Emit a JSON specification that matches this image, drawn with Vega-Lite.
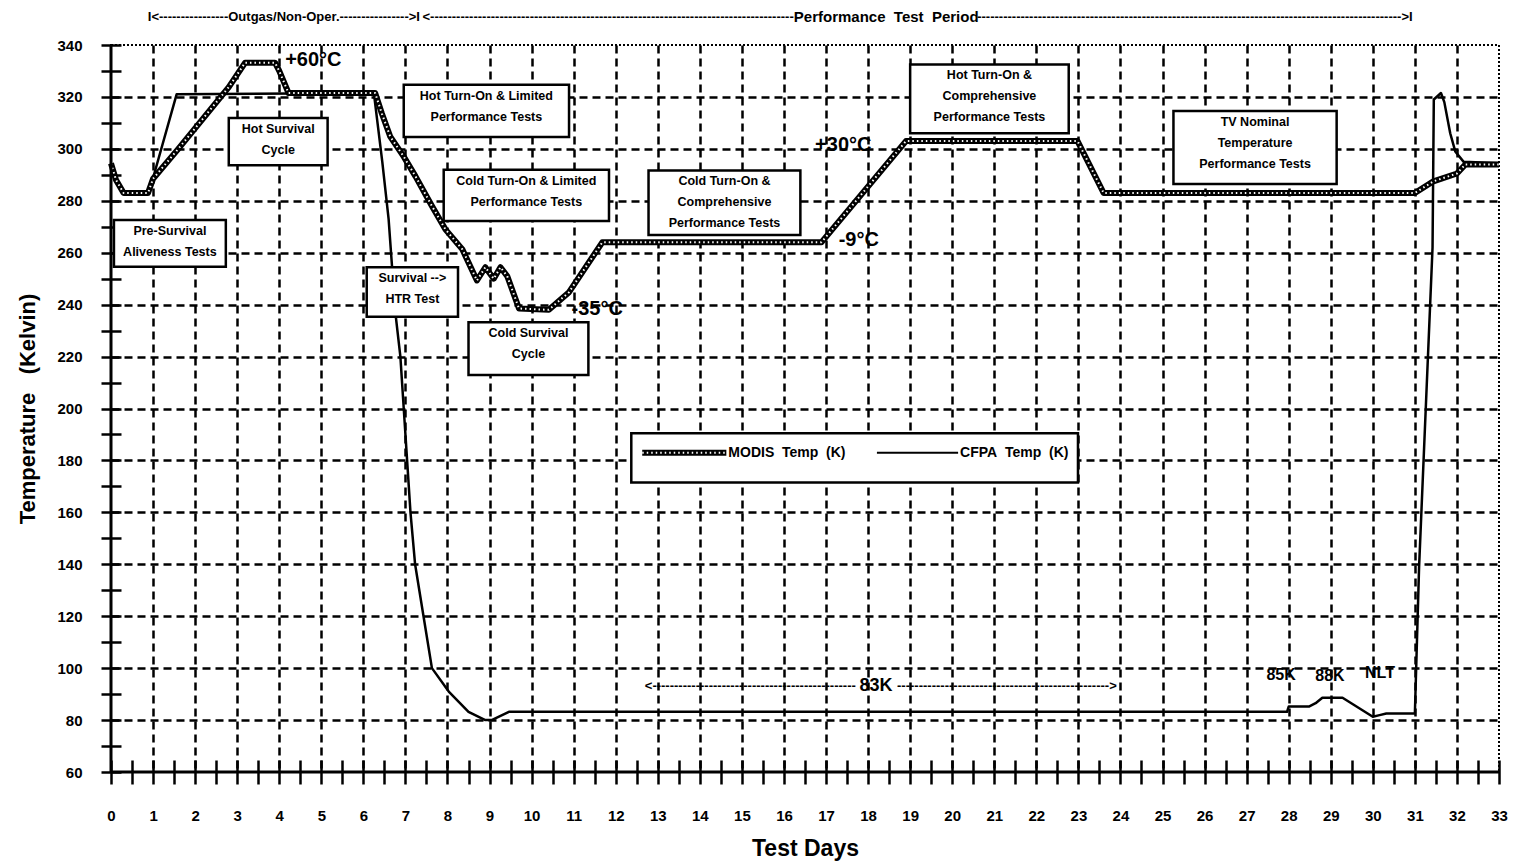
{
  "$schema": "https://vega.github.io/schema/vega-lite/v6.json",
  "width": 1388,
  "height": 727,
  "autosize": {"type": "none"},
  "padding": {"left": 111, "top": 45, "right": 19, "bottom": 89},
  "background": "white",
  "config": {
    "view": {"stroke": "black", "strokeWidth": 2, "strokeDash": [2, 2]},
    "font": "Liberation Sans",
    "axisX": {"tickCount": 66},
    "axisY": {"tickCount": 28}
  },
  "datasets": {
    "temps": [
      {"series": "MODIS", "day": 0, "temp": 294.4},
      {"series": "MODIS", "day": 0.12, "temp": 288},
      {"series": "MODIS", "day": 0.3, "temp": 283},
      {"series": "MODIS", "day": 0.88, "temp": 283},
      {"series": "MODIS", "day": 1.0, "temp": 288.5},
      {"series": "MODIS", "day": 1.6, "temp": 300},
      {"series": "MODIS", "day": 2.8, "temp": 323.8},
      {"series": "MODIS", "day": 3.19, "temp": 333.2},
      {"series": "MODIS", "day": 3.9, "temp": 333.2},
      {"series": "MODIS", "day": 4.0, "temp": 330},
      {"series": "MODIS", "day": 4.22, "temp": 321.5},
      {"series": "MODIS", "day": 6.28, "temp": 321.5},
      {"series": "MODIS", "day": 6.44, "temp": 313.6},
      {"series": "MODIS", "day": 6.64, "temp": 304.7},
      {"series": "MODIS", "day": 6.96, "temp": 297},
      {"series": "MODIS", "day": 7.24, "temp": 289.4},
      {"series": "MODIS", "day": 7.63, "temp": 278},
      {"series": "MODIS", "day": 7.95, "temp": 269},
      {"series": "MODIS", "day": 8.35, "temp": 261.4},
      {"series": "MODIS", "day": 8.7, "temp": 249.3},
      {"series": "MODIS", "day": 8.9, "temp": 254.4},
      {"series": "MODIS", "day": 9.1, "temp": 250},
      {"series": "MODIS", "day": 9.26, "temp": 254.4},
      {"series": "MODIS", "day": 9.42, "temp": 251},
      {"series": "MODIS", "day": 9.7, "temp": 238.5},
      {"series": "MODIS", "day": 10.41, "temp": 238},
      {"series": "MODIS", "day": 10.89, "temp": 244.8},
      {"series": "MODIS", "day": 11.68, "temp": 264},
      {"series": "MODIS", "day": 16.89, "temp": 264},
      {"series": "MODIS", "day": 18.9, "temp": 303},
      {"series": "MODIS", "day": 22.98, "temp": 303},
      {"series": "MODIS", "day": 23.6, "temp": 283},
      {"series": "MODIS", "day": 31.0, "temp": 283},
      {"series": "MODIS", "day": 31.44, "temp": 287.5},
      {"series": "MODIS", "day": 32.0, "temp": 290.5},
      {"series": "MODIS", "day": 32.2, "temp": 294},
      {"series": "MODIS", "day": 33, "temp": 294},
      {"series": "CFPA", "day": 0, "temp": 294.4},
      {"series": "CFPA", "day": 0.12, "temp": 288},
      {"series": "CFPA", "day": 0.3, "temp": 283},
      {"series": "CFPA", "day": 0.9, "temp": 283},
      {"series": "CFPA", "day": 1.56, "temp": 321},
      {"series": "CFPA", "day": 6.25, "temp": 321.5},
      {"series": "CFPA", "day": 6.45, "temp": 295},
      {"series": "CFPA", "day": 6.6, "temp": 273},
      {"series": "CFPA", "day": 6.76, "temp": 237},
      {"series": "CFPA", "day": 6.88, "temp": 220},
      {"series": "CFPA", "day": 6.96, "temp": 200},
      {"series": "CFPA", "day": 7.04, "temp": 180},
      {"series": "CFPA", "day": 7.12, "temp": 160},
      {"series": "CFPA", "day": 7.23, "temp": 140},
      {"series": "CFPA", "day": 7.43, "temp": 120},
      {"series": "CFPA", "day": 7.63, "temp": 100},
      {"series": "CFPA", "day": 8.03, "temp": 91},
      {"series": "CFPA", "day": 8.5, "temp": 83.2},
      {"series": "CFPA", "day": 8.9, "temp": 80},
      {"series": "CFPA", "day": 9.05, "temp": 80},
      {"series": "CFPA", "day": 9.46, "temp": 83.2},
      {"series": "CFPA", "day": 27.96, "temp": 83.2},
      {"series": "CFPA", "day": 28.0, "temp": 85.2},
      {"series": "CFPA", "day": 28.48, "temp": 85.2},
      {"series": "CFPA", "day": 28.64, "temp": 86.5},
      {"series": "CFPA", "day": 28.8, "temp": 88.6},
      {"series": "CFPA", "day": 29.28, "temp": 88.6},
      {"series": "CFPA", "day": 30.0, "temp": 81.3},
      {"series": "CFPA", "day": 30.16, "temp": 81.9},
      {"series": "CFPA", "day": 30.32, "temp": 82.5},
      {"series": "CFPA", "day": 31.0, "temp": 82.5},
      {"series": "CFPA", "day": 31.1, "temp": 139},
      {"series": "CFPA", "day": 31.42, "temp": 262},
      {"series": "CFPA", "day": 31.45, "temp": 319},
      {"series": "CFPA", "day": 31.62, "temp": 321.5},
      {"series": "CFPA", "day": 31.7, "temp": 318},
      {"series": "CFPA", "day": 31.84, "temp": 306},
      {"series": "CFPA", "day": 31.96, "temp": 299},
      {"series": "CFPA", "day": 32.16, "temp": 295},
      {"series": "CFPA", "day": 33, "temp": 294.5}
    ],
    "boxes": [
      {"x1": 0.07, "x2": 2.73, "y1": 272.6, "y2": 254.6, "label": ["Pre-Survival", "Aliveness Tests"]},
      {"x1": 2.8, "x2": 5.15, "y1": 311.9, "y2": 293.7, "label": ["Hot Survival", "Cycle"]},
      {"x1": 6.96, "x2": 10.89, "y1": 324.7, "y2": 304.6, "label": ["Hot Turn-On & Limited", "Performance Tests"]},
      {"x1": 7.91, "x2": 11.84, "y1": 292, "y2": 272.2, "label": ["Cold Turn-On & Limited", "Performance Tests"]},
      {"x1": 6.08, "x2": 8.25, "y1": 254.4, "y2": 235.3, "label": ["Survival -->", "HTR Test"]},
      {"x1": 8.5, "x2": 11.35, "y1": 233.2, "y2": 212.9, "label": ["Cold Survival", "Cycle"]},
      {"x1": 12.78, "x2": 16.39, "y1": 291.7, "y2": 266.8, "label": ["Cold Turn-On &", "Comprehensive", "Performance Tests"]},
      {"x1": 19.0, "x2": 22.77, "y1": 332.5, "y2": 306, "label": ["Hot Turn-On &", "Comprehensive", "Performance Tests"]},
      {"x1": 25.26, "x2": 29.14, "y1": 314.6, "y2": 286.5, "label": ["TV Nominal", "Temperature", "Performance Tests"]}
    ],
    "legendbox": [
      {"x1": 12.37, "x2": 22.99, "y1": 190.5, "y2": 171.5}
    ],
    "legend": [
      {"series": "MODIS", "label": "MODIS\u00a0\u00a0Temp\u00a0\u00a0(K)", "x1": 12.63, "x2": 14.63, "y": 183},
      {"series": "CFPA", "label": "CFPA\u00a0\u00a0Temp\u00a0\u00a0(K)", "x1": 18.21, "x2": 20.14, "y": 183}
    ],
    "notes": [
      {"kind": "callout", "text": "+60°C", "day": 4.14, "temp": 334.4},
      {"kind": "callout", "text": "+30°C", "day": 16.74, "temp": 301.5},
      {"kind": "callout", "text": "-9°C", "day": 17.3, "temp": 264.8},
      {"kind": "callout", "text": "-35°C", "day": 10.95, "temp": 238.5},
      {"kind": "small", "text": "85K", "day": 27.82, "temp": 97.4},
      {"kind": "small", "text": "88K", "day": 28.98, "temp": 96.8},
      {"kind": "small", "text": "NLT", "day": 30.17, "temp": 98},
      {"kind": "big", "text": "83K", "day": 18.19, "temp": 93},
      {"kind": "dash", "text": "<-----------------------------------------------", "day": 15.2, "temp": 93},
      {"kind": "dash", "text": "------------------------------------------------->", "day": 21.3, "temp": 93},
      {"kind": "header", "text": "I<----------------Outgas/Non-Oper.---------------->I", "day": 4.11, "temp": 350.8},
      {"kind": "header", "text": "<------------------------------------------------------------------------------------", "day": 11.82, "temp": 350.8},
      {"kind": "header", "text": "-------------------------------------------------------------------------------------------------->I", "day": 25.77, "temp": 350.8},
      {"kind": "headbig", "text": "Performance\u00a0\u00a0Test\u00a0\u00a0Period", "day": 18.43, "temp": 350.8}
    ]
  },
  "layer": [
    {
      "data": {"name": "temps"},
      "transform": [{"filter": "datum.series === 'CFPA'"}],
      "mark": {"type": "line", "color": "black", "strokeWidth": 2.5, "strokeJoin": "round"},
      "encoding": {
        "x": {
          "field": "day", "type": "quantitative",
          "scale": {"domain": [0, 33], "nice": false, "zero": false},
          "axis": {
            "title": "Test Days",
            "tickCount": 66,
            "offset": -12,
            "domain": false,
            "grid": true,
            "gridColor": "black",
            "gridWidth": 2.5,
            "gridDash": [8, 5],
            "gridOpacity": {"condition": {"test": "datum.value % 1 !== 0 || datum.value === 0 || datum.value === 33", "value": 0}, "value": 1},
            "ticks": true,
            "tickColor": "black",
            "tickWidth": 2.5,
            "tickSize": 24,
            "labelExpr": "datum.value % 1 ? '' : format(datum.value, 'd')",
            "labelFont": "Liberation Sans",
            "labelFontWeight": "bold",
            "labelFontSize": 15,
            "labelColor": "black",
            "labelPadding": 24,
            "labelFlush": false,
            "labelOverlap": false,
            "titleFont": "Liberation Sans",
            "titleFontSize": 23,
            "titleFontWeight": "bold",
            "titleColor": "black",
            "titlePadding": 14
          }
        },
        "y": {
          "field": "temp", "type": "quantitative",
          "scale": {"domain": [60, 340], "nice": false, "zero": false},
          "axis": {
            "title": "Temperature\u00a0\u00a0\u00a0(Kelvin)",
            "tickCount": 28,
            "offset": -10,
            "domain": false,
            "grid": true,
            "gridColor": "black",
            "gridWidth": 2.5,
            "gridDash": [8, 5],
            "gridOpacity": {"condition": {"test": "datum.value % 20 !== 0 || datum.value === 60 || datum.value === 340", "value": 0}, "value": 1},
            "ticks": true,
            "tickColor": "black",
            "tickWidth": 2.5,
            "tickSize": 20,
            "labelExpr": "datum.value % 20 ? '' : format(datum.value, 'd')",
            "labelFont": "Liberation Sans",
            "labelFontWeight": "bold",
            "labelFontSize": 15,
            "labelColor": "black",
            "labelPadding": 19,
            "labelOverlap": false,
            "titleFont": "Liberation Sans",
            "titleFontSize": 22,
            "titleFontWeight": "bold",
            "titleColor": "black",
            "titlePadding": 17
          }
        }
      }
    },
    {
      "data": {"name": "temps"},
      "transform": [{"filter": "datum.series === 'MODIS'"}],
      "mark": {"type": "line", "color": "black", "strokeWidth": 6, "strokeJoin": "round"},
      "encoding": {
        "x": {"field": "day", "type": "quantitative"},
        "y": {"field": "temp", "type": "quantitative"}
      }
    },
    {
      "data": {"name": "temps"},
      "transform": [{"filter": "datum.series === 'MODIS'"}],
      "mark": {"type": "line", "color": "white", "strokeWidth": 2, "strokeDash": [1.5, 3], "strokeJoin": "round"},
      "encoding": {
        "x": {"field": "day", "type": "quantitative"},
        "y": {"field": "temp", "type": "quantitative"}
      }
    },
    {
      "data": {"name": "boxes"},
      "mark": {"type": "rect", "fill": "white", "stroke": "black", "strokeWidth": 2.5},
      "encoding": {
        "x": {"field": "x1", "type": "quantitative"},
        "x2": {"field": "x2"},
        "y": {"field": "y1", "type": "quantitative"},
        "y2": {"field": "y2"}
      }
    },
    {
      "data": {"name": "boxes"},
      "transform": [
        {"calculate": "(datum.x1 + datum.x2) / 2", "as": "cx"}
      ],
      "mark": {"type": "text", "align": "center", "baseline": "top", "dy": 5, "fontSize": 12.5, "fontWeight": "bold", "lineHeight": 21, "color": "black", "font": "Liberation Sans"},
      "encoding": {
        "x": {"field": "cx", "type": "quantitative"},
        "y": {"field": "y1", "type": "quantitative"},
        "text": {"field": "label"}
      }
    },
    {
      "data": {"name": "legendbox"},
      "mark": {"type": "rect", "fill": "white", "stroke": "black", "strokeWidth": 2.5},
      "encoding": {
        "x": {"field": "x1", "type": "quantitative"},
        "x2": {"field": "x2"},
        "y": {"field": "y1", "type": "quantitative"},
        "y2": {"field": "y2"}
      }
    },
    {
      "data": {"name": "legend"},
      "transform": [{"filter": "datum.series === 'MODIS'"}],
      "mark": {"type": "rule", "color": "black", "strokeWidth": 6},
      "encoding": {
        "x": {"field": "x1", "type": "quantitative"},
        "x2": {"field": "x2"},
        "y": {"field": "y", "type": "quantitative"}
      }
    },
    {
      "data": {"name": "legend"},
      "transform": [{"filter": "datum.series === 'MODIS'"}],
      "mark": {"type": "rule", "color": "white", "strokeWidth": 2, "strokeDash": [1.5, 3]},
      "encoding": {
        "x": {"field": "x1", "type": "quantitative"},
        "x2": {"field": "x2"},
        "y": {"field": "y", "type": "quantitative"}
      }
    },
    {
      "data": {"name": "legend"},
      "transform": [{"filter": "datum.series === 'CFPA'"}],
      "mark": {"type": "rule", "color": "black", "strokeWidth": 2},
      "encoding": {
        "x": {"field": "x1", "type": "quantitative"},
        "x2": {"field": "x2"},
        "y": {"field": "y", "type": "quantitative"}
      }
    },
    {
      "data": {"name": "legend"},
      "mark": {"type": "text", "align": "left", "baseline": "middle", "dx": 2, "fontSize": 14, "fontWeight": "bold", "color": "black", "font": "Liberation Sans"},
      "encoding": {
        "x": {"field": "x2", "type": "quantitative"},
        "y": {"field": "y", "type": "quantitative"},
        "text": {"field": "label"}
      }
    },
    {
      "data": {"name": "notes"},
      "transform": [{"filter": "datum.kind === 'callout'"}],
      "mark": {"type": "text", "align": "left", "baseline": "middle", "fontSize": 20, "fontWeight": "bold", "color": "black", "font": "Liberation Sans"},
      "encoding": {
        "x": {"field": "day", "type": "quantitative"},
        "y": {"field": "temp", "type": "quantitative"},
        "text": {"field": "text"}
      }
    },
    {
      "data": {"name": "notes"},
      "transform": [{"filter": "datum.kind === 'small'"}],
      "mark": {"type": "text", "align": "center", "baseline": "middle", "fontSize": 16, "fontWeight": "bold", "color": "black", "font": "Liberation Sans"},
      "encoding": {
        "x": {"field": "day", "type": "quantitative"},
        "y": {"field": "temp", "type": "quantitative"},
        "text": {"field": "text"}
      }
    },
    {
      "data": {"name": "notes"},
      "transform": [{"filter": "datum.kind === 'big'"}],
      "mark": {"type": "text", "align": "center", "baseline": "middle", "fontSize": 18, "fontWeight": "bold", "color": "black", "font": "Liberation Sans"},
      "encoding": {
        "x": {"field": "day", "type": "quantitative"},
        "y": {"field": "temp", "type": "quantitative"},
        "text": {"field": "text"}
      }
    },
    {
      "data": {"name": "notes"},
      "transform": [{"filter": "datum.kind === 'dash' || datum.kind === 'header'"}],
      "mark": {"type": "text", "align": "center", "baseline": "middle", "fontSize": 13, "fontWeight": "bold", "color": "black", "font": "Liberation Sans"},
      "encoding": {
        "x": {"field": "day", "type": "quantitative"},
        "y": {"field": "temp", "type": "quantitative"},
        "text": {"field": "text"}
      }
    },
    {
      "data": {"name": "notes"},
      "transform": [{"filter": "datum.kind === 'headbig'"}],
      "mark": {"type": "text", "align": "center", "baseline": "middle", "fontSize": 15, "fontWeight": "bold", "color": "black", "font": "Liberation Sans"},
      "encoding": {
        "x": {"field": "day", "type": "quantitative"},
        "y": {"field": "temp", "type": "quantitative"},
        "text": {"field": "text"}
      }
    },
    {
      "data": {"values": [{"temp": 60}]},
      "mark": {"type": "rule", "color": "black", "strokeWidth": 3},
      "encoding": {"y": {"field": "temp", "type": "quantitative"}}
    },
    {
      "data": {"values": [{"day": 0}]},
      "mark": {"type": "rule", "color": "black", "strokeWidth": 3},
      "encoding": {"x": {"field": "day", "type": "quantitative"}}
    }
  ]
}
